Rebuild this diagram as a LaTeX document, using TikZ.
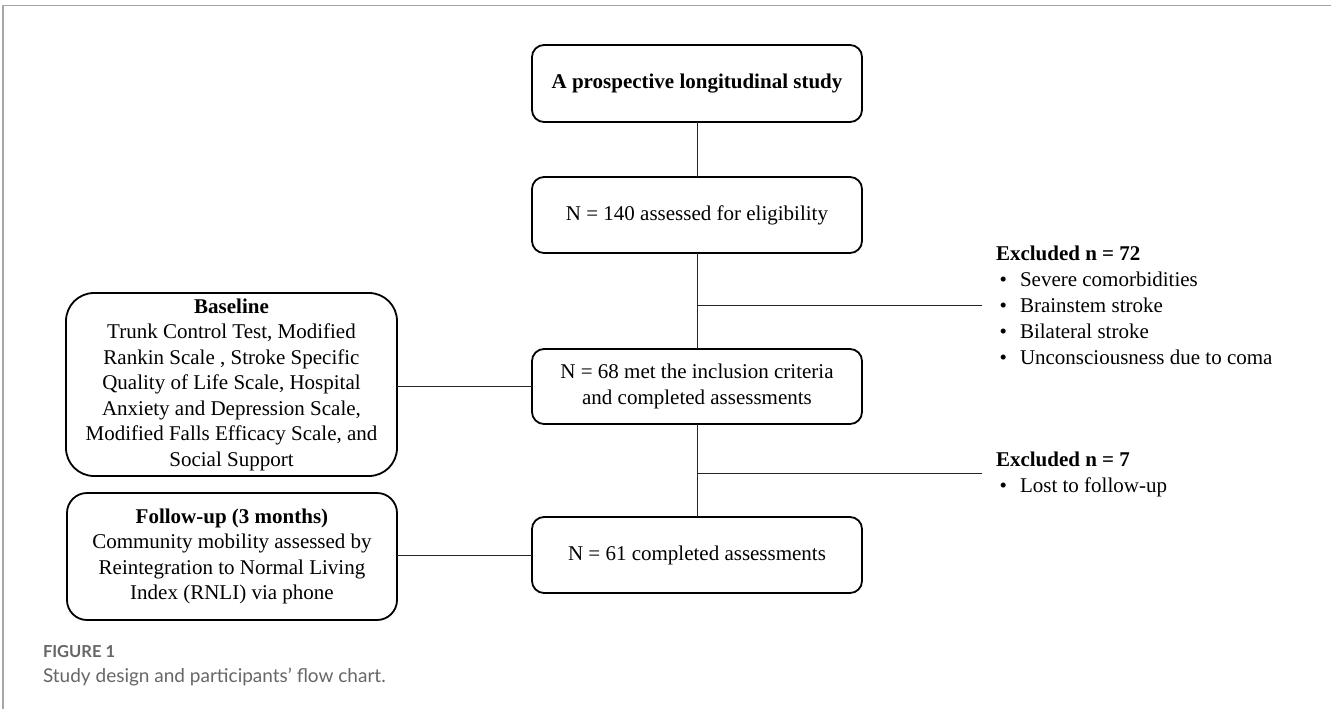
\documentclass[tikz,border=0pt]{standalone}
\usepackage{fontspec}
\setmainfont{Liberation Serif}
\newfontfamily\capfont{Lato}
\begin{document}
\begin{tikzpicture}[x=1pt,y=-1pt,
  every node/.style={inner sep=0pt, outer sep=0pt},
  flowbox/.style={draw=black, line width=1.8pt, align=center, minimum width=330pt,
    font=\fontsize{21}{25.5}\selectfont},
  conn/.style={draw=black!85, line width=1.0pt},
  exclnote/.style={align=left, anchor=west, font=\fontsize{21}{26}\selectfont},
  frameline/.style={draw=black!35, line width=1.6pt}]
\useasboundingbox (0,0) rectangle (1331,709);
% frame
\draw[frameline] (3,709) -- (3,5.5) -- (1331,5.5);
% central boxes
\node[flowbox, rounded corners=12pt, minimum height=77pt] (A) at (697,83.5) {\textbf{A prospective longitudinal study}};
\node[flowbox, rounded corners=12pt, minimum height=76pt] (B) at (697,215) {N = 140 assessed for eligibility};
\node[flowbox, rounded corners=12pt, minimum height=75pt] (C) at (697,386.5) {N = 68 met the inclusion criteria\\and completed assessments};
\node[flowbox, rounded corners=12pt, minimum height=76pt] (D) at (697,555) {N = 61 completed assessments};
% side boxes
\node[flowbox, rounded corners=28pt, minimum width=331pt, minimum height=183pt] (base) at (231.5,384.5)
  {\textbf{Baseline}\\Trunk Control Test, Modified\\Rankin Scale , Stroke Specific\\Quality of Life Scale, Hospital\\Anxiety and Depression Scale,\\Modified Falls Efficacy Scale, and\\Social Support};
\node[flowbox, rounded corners=20pt, minimum height=127pt] (fu) at (232,556.5)
  {\textbf{Follow-up (3 months)}\\Community mobility assessed by\\Reintegration to Normal Living\\Index (RNLI) via phone};
% junctions
\coordinate (j1) at (697,305);
\coordinate (e1) at (982,305);
\coordinate (j2) at (697,473);
\coordinate (e2) at (982,473);
% connectors
\draw[conn] (A.south) -- (B.north);
\draw[conn] (B.south) -- (C.north);
\draw[conn] (C.south) -- (D.north);
\draw[conn] (j1) -- (e1);
\draw[conn] (j2) -- (e2);
\draw[conn] (C.west) -- (C.west -| base.east);
\draw[conn] (D.west) -- (D.west -| fu.east);
% exclusion notes
\node[exclnote] (x1) at (996,305) {\textbf{Excluded n = 72}\\\makebox[24pt][l]{\,\textbullet}Severe comorbidities\\\makebox[24pt][l]{\,\textbullet}Brainstem stroke\\\makebox[24pt][l]{\,\textbullet}Bilateral stroke\\\makebox[24pt][l]{\,\textbullet}Unconsciousness due to coma};
\node[exclnote] (x2) at (996,474) {\textbf{Excluded n = 7}\\\makebox[24pt][l]{\,\textbullet}Lost to follow-up};
% caption
\node[anchor=base west, text=black!60, font=\capfont\bfseries\fontsize{16.5}{18}\selectfont] (fig) at (43,657) {FIGURE 1};
\node[anchor=base west, text=black!60, font=\capfont\fontsize{19}{22}\selectfont] (cap) at (43,682) {Study design and participants’ flow chart.};
\end{tikzpicture}
\end{document}
